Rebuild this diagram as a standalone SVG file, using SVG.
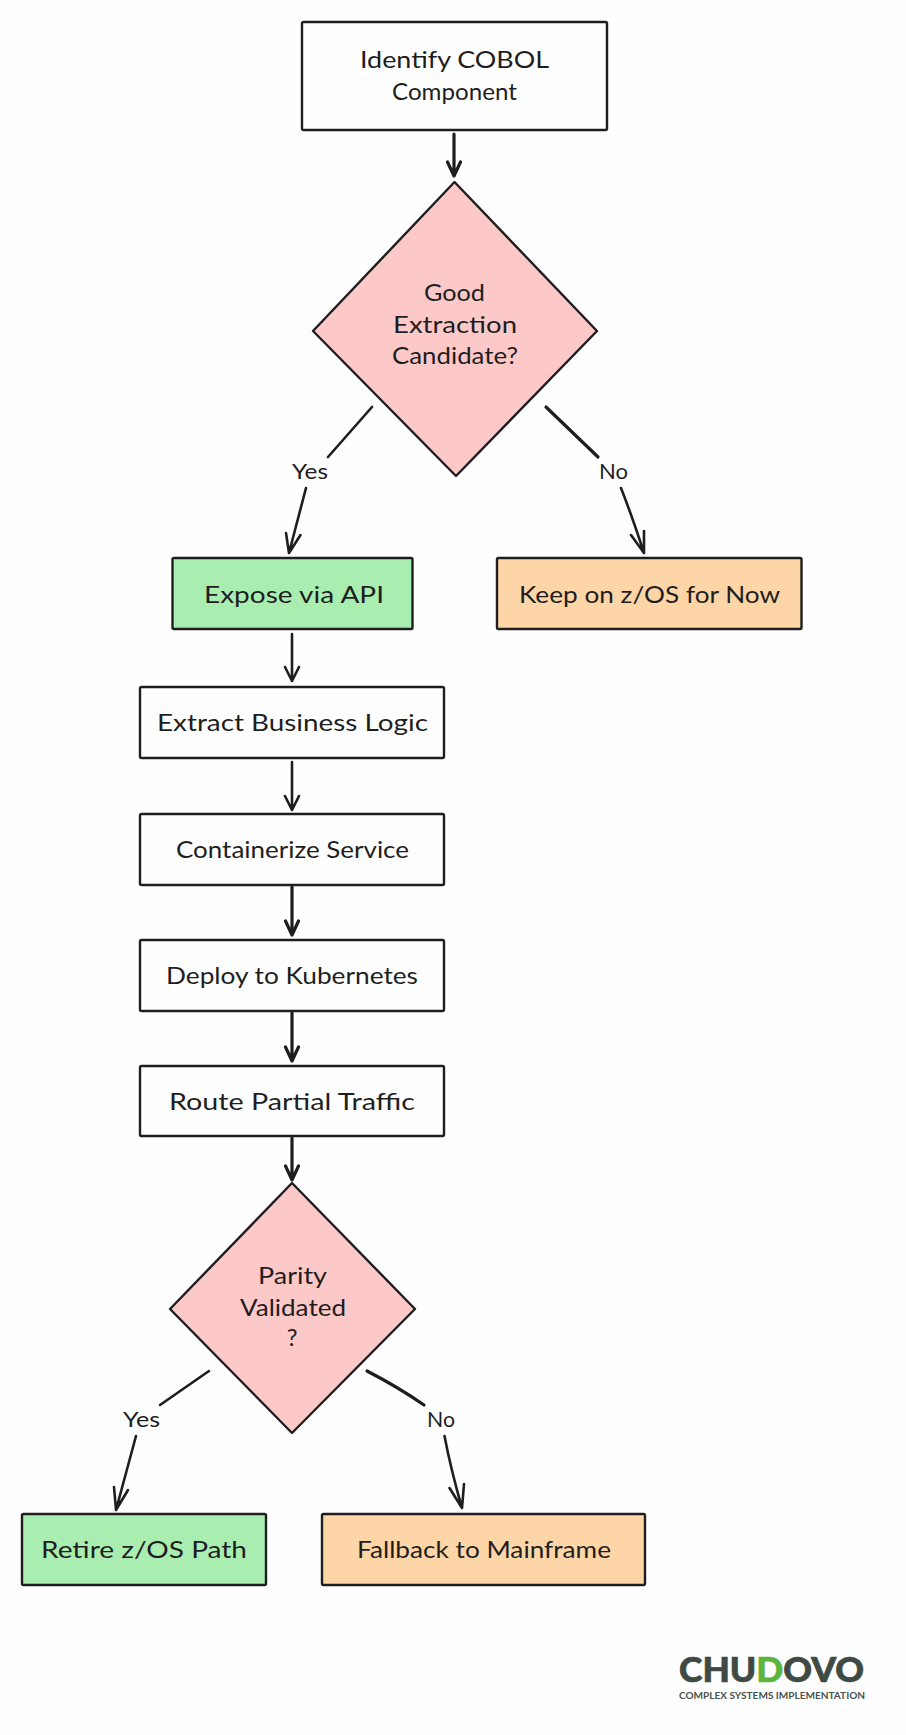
<svg xmlns="http://www.w3.org/2000/svg" width="906" height="1735" viewBox="0 0 906 1735">
<style>
.bg{fill:#fefefe}
.n{stroke:#1e1e1e;stroke-width:2.4;stroke-linejoin:round}
.w{fill:#fefefe}.p{fill:#fdc8c8}.g{fill:#a9eeb0}.o{fill:#fed5a6}
.t{font-family:"Lato","Open Sans",sans-serif;font-size:24px;fill:#1e1e1e}
.l{font-size:22px}
.c{fill:none;stroke:#1e1e1e;stroke-width:2.6;stroke-linecap:round;stroke-linejoin:round}
.h{stroke-width:3.2}
.lg{font-family:"Lato",sans-serif;font-weight:900;font-size:34.5px;fill:#3f4a42;stroke:#3f4a42;stroke-width:.7}
.tg{font-family:"Lato",sans-serif;font-weight:700;font-size:10px;fill:#4a524c}
</style>
<rect class="bg" width="906" height="1735"/>
<g id="connectors">
<path class="c h" d="M454 134V176M447.500 162L454 176L460.500 162"/>
<path class="c" d="M372 407L328 457"/>
<path class="c" d="M306 488L289 553M286 533L289 553L300.5 535"/>
<path class="c h" d="M546 407L598 457"/>
<path class="c" d="M621 488Q632 516 644 553M631 535L644 553L644 531"/>
<path class="c" d="M292 634V681M285 667L292 681L299 667"/>
<path class="c" d="M292 762V810M285 796L292 810L299 796"/>
<path class="c h" d="M292 887V935M285.500 921L292 935L298.500 921"/>
<path class="c h" d="M292 1013V1061M285.500 1047L292 1061L298.500 1047"/>
<path class="c h" d="M292 1138V1180M285.500 1166L292 1180L298.500 1166"/>
<path class="c" d="M209 1371L160 1405"/>
<path class="c" d="M136 1436L116 1510M114 1487L116 1510L128 1490"/>
<path class="c h" d="M367 1371Q398 1387 424 1405"/>
<path class="c" d="M444.5 1436Q451 1470 462 1508M449.5 1488L462 1508L464 1484"/>
<text class="t l" x="292" y="479" textLength="36" lengthAdjust="spacingAndGlyphs">Yes</text>
<text class="t l" x="599" y="479" textLength="29" lengthAdjust="spacingAndGlyphs">No</text>
<text class="t l" x="123" y="1427" textLength="37" lengthAdjust="spacingAndGlyphs">Yes</text>
<text class="t l" x="427" y="1427" textLength="28" lengthAdjust="spacingAndGlyphs">No</text>
</g>
<g id="identify"><rect class="n w" x="302" y="22" width="305" height="108" rx="1.5"/>
<text class="t" x="360" y="68" textLength="189" lengthAdjust="spacingAndGlyphs">Identify COBOL</text>
<text class="t" x="392" y="100" textLength="125" lengthAdjust="spacingAndGlyphs">Component</text></g>
<g id="candidate"><path class="n p" d="M454.5 182L597 331L456 476L313 331Z"/>
<text class="t" x="424" y="301" textLength="61" lengthAdjust="spacingAndGlyphs">Good</text>
<text class="t" x="393" y="333" textLength="124" lengthAdjust="spacingAndGlyphs">Extraction</text>
<text class="t" x="392" y="364" textLength="126" lengthAdjust="spacingAndGlyphs">Candidate?</text></g>
<g id="expose"><rect class="n g" x="172.5" y="558" width="240" height="71" rx="1.5"/>
<text class="t" x="204" y="603" textLength="180" lengthAdjust="spacingAndGlyphs">Expose via API</text></g>
<g id="keep"><rect class="n o" x="497" y="558" width="304.5" height="71" rx="1.5"/>
<text class="t" x="519" y="603" textLength="261" lengthAdjust="spacingAndGlyphs">Keep on z/OS for Now</text></g>
<g id="extract"><rect class="n w" x="140" y="687" width="304" height="71" rx="1.5"/>
<text class="t" x="157" y="731" textLength="271" lengthAdjust="spacingAndGlyphs">Extract Business Logic</text></g>
<g id="containerize"><rect class="n w" x="140" y="814" width="304" height="71" rx="1.5"/>
<text class="t" x="176" y="858" textLength="233" lengthAdjust="spacingAndGlyphs">Containerize Service</text></g>
<g id="deploy"><rect class="n w" x="140" y="940" width="304" height="71" rx="1.5"/>
<text class="t" x="166" y="984" textLength="252" lengthAdjust="spacingAndGlyphs">Deploy to Kubernetes</text></g>
<g id="route"><rect class="n w" x="140" y="1066" width="304" height="70" rx="1.5"/>
<text class="t" x="169" y="1110" textLength="246" lengthAdjust="spacingAndGlyphs">Route Partial Traffic</text></g>
<g id="parity"><path class="n p" d="M292 1183L415 1309L292 1433L170 1309Z"/>
<text class="t" x="258" y="1284" textLength="69" lengthAdjust="spacingAndGlyphs">Parity</text>
<text class="t" x="240" y="1316" textLength="106" lengthAdjust="spacingAndGlyphs">Validated</text>
<text class="t" x="292" y="1346" text-anchor="middle">?</text></g>
<g id="retire"><rect class="n g" x="22" y="1514" width="244" height="71" rx="1.5"/>
<text class="t" x="41" y="1558" textLength="206" lengthAdjust="spacingAndGlyphs">Retire z/OS Path</text></g>
<g id="fallback"><rect class="n o" x="322" y="1514" width="323" height="71" rx="1.5"/>
<text class="t" x="357" y="1558" textLength="254" lengthAdjust="spacingAndGlyphs">Fallback to Mainframe</text></g>
<g id="logo"><text class="lg" x="679" y="1682" textLength="185" lengthAdjust="spacingAndGlyphs">CHU<tspan fill="#5cb53c" stroke="#5cb53c">D</tspan>OVO</text>
<text class="tg" x="679" y="1699" textLength="186" lengthAdjust="spacingAndGlyphs">COMPLEX SYSTEMS IMPLEMENTATION</text></g>
</svg>
